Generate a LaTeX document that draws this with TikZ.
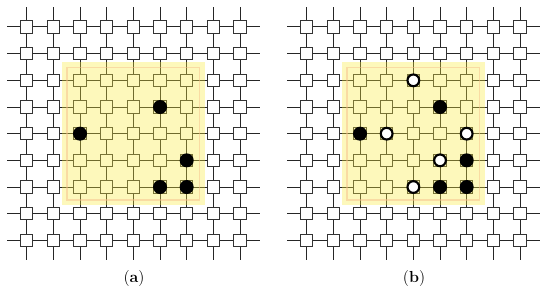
\documentclass[tikz,border=0pt]{standalone}
\begin{document}
\begin{tikzpicture}[x=0.75pt,y=-0.75pt,
  cell/.style={draw=black!80, fill=white, line width=0.75pt, minimum size=9.2pt, inner sep=0pt},
  link/.style={draw=black!85, line width=0.75pt},
  full/.style={circle, fill=black, minimum size=10.5pt, inner sep=0pt},
  hollow/.style={circle, draw=black, line width=1.6pt, fill=white, minimum size=8.8pt, inner sep=0pt},
  zone/.style={fill={rgb,255:red,250;green,235;blue,60}, opacity=0.35},
  zoneedge/.style={draw={rgb,255:red,245;green,190;blue,140}, opacity=0.5, line width=0.8pt},
  lab/.style={font=\fontsize{12}{14}\selectfont}]
\useasboundingbox (0,0) rectangle (550,295);
% grid nodes
\foreach \p/\ox in {a/26.67,b/306.67}{
  \foreach \i in {1,...,9}{
    \foreach \j in {1,...,9}{
      \node[cell] (\p-\i-\j) at ({\ox+(\i-1)*26.67},{27+(\j-1)*26.67}) {};
    }
  }
}
% connectors
\foreach \p in {a,b}{
  \foreach \i in {1,...,8}{
    \pgfmathtruncatemacro\n{\i+1}
    \foreach \j in {1,...,9}{
      \draw[link] (\p-\i-\j) -- (\p-\n-\j);
      \draw[link] (\p-\j-\i) -- (\p-\j-\n);
    }
  }
  \foreach \k in {1,...,9}{
    \coordinate (\p-w\k) at ([xshift=-15pt]\p-1-\k.center);
    \coordinate (\p-e\k) at ([xshift=15pt]\p-9-\k.center);
    \coordinate (\p-n\k) at ([yshift=15pt]\p-\k-1.center);
    \coordinate (\p-s\k) at ([yshift=-15pt]\p-\k-9.center);
    \draw[link] (\p-1-\k) -- (\p-w\k);
    \draw[link] (\p-9-\k) -- (\p-e\k);
    \draw[link] (\p-\k-1) -- (\p-n\k);
    \draw[link] (\p-\k-9) -- (\p-s\k);
  }
  % highlighted zone
  \fill[zone] ([shift={(-18,-18)}]\p-3-3.center) rectangle ([shift={(18,18)}]\p-7-7.center);
  \draw[zoneedge] ([shift={(-13,-13)}]\p-3-3.center) rectangle ([shift={(13,13)}]\p-7-7.center);
  % black dots
  \node[full] (\p-d1) at (\p-6-4) {};
  \node[full] (\p-d2) at (\p-3-5) {};
  \node[full] (\p-d3) at (\p-7-6) {};
  \node[full] (\p-d4) at (\p-6-7) {};
  \node[full] (\p-d5) at (\p-7-7) {};
}
% hollow dots in (b)
\node[hollow] (h1) at (b-5-3) {};
\node[hollow] (h2) at (b-4-5) {};
\node[hollow] (h3) at (b-7-5) {};
\node[hollow] (h4) at (b-6-6) {};
\node[hollow] (h5) at (b-5-7) {};
% labels
\node[lab] (la) at (134,279) {(\textbf{a})};
\node[lab] (lb) at (414,279) {(\textbf{b})};
\end{tikzpicture}
\end{document}
